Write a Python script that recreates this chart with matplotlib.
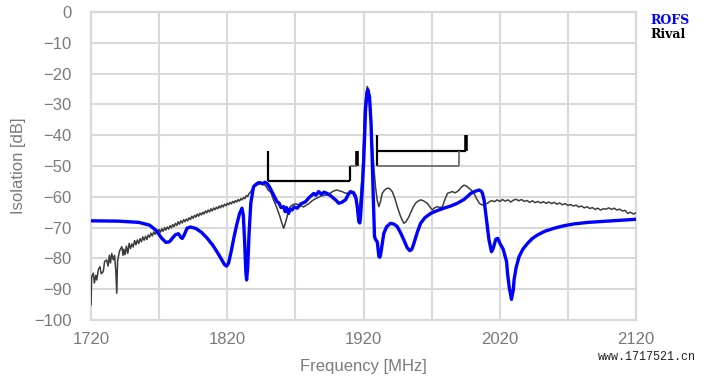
import numpy as np
import matplotlib.pyplot as plt

# ROFS (blue) curve
rofs_freq = [1720, 1740, 1755, 1763, 1768, 1772, 1775, 1777.6, 1780, 1782, 1784.2, 1786, 1787,
             1788.5, 1790.5, 1793, 1797, 1801, 1805, 1809, 1813, 1816, 1818, 1819.5, 1821, 1823,
             1825, 1827, 1829, 1830.8, 1831.8, 1832.8, 1833.6, 1834.2, 1835, 1836, 1837.3, 1839.3,
             1841, 1842.5, 1844.3, 1846, 1847.5, 1849.2, 1851, 1853, 1856.5, 1858, 1859.5, 1861.4,
             1862.5, 1863.5, 1865, 1866, 1867.5, 1869, 1871.3, 1874, 1877.4, 1880, 1883.5, 1885,
             1887.1, 1889, 1891, 1893.3, 1896, 1898.2, 1900, 1901.8, 1904, 1906.8, 1908.5, 1910.4,
             1912.9, 1914.5, 1915.4, 1916.6, 1917.3, 1917.8, 1919, 1920.2, 1921.5, 1922.5, 1923.2,
             1924.4, 1925.5, 1926.4, 1927.3, 1928.1, 1929, 1930.1, 1931.3, 1932, 1932.5, 1934.9,
             1937, 1939.9, 1942.5, 1944.8, 1947, 1949.6, 1952, 1954, 1955.5, 1957, 1959.5, 1961.9,
             1965, 1969.3, 1974, 1979, 1984, 1988.9, 1994, 1998.7, 2002, 2004.8, 2006.5, 2007.3,
             2008.5, 2009.7, 2011, 2012.1, 2013.9, 2015, 2017.1, 2018.5, 2020.7, 2022.5, 2023.7,
             2025, 2025.7, 2027, 2028.6, 2030, 2030.5, 2032, 2034.2, 2037, 2040.4, 2044, 2047.7,
             2053, 2060, 2067, 2074.6, 2085, 2099.2, 2110, 2120]
rofs_db = [-67.8, -67.9, -68.3, -69.2, -71, -73.5, -74.8, -74.6, -73.3, -72.3, -72, -73.2, -73.5,
           -72.3, -70.2, -69.8, -70.3, -71.5, -73.3, -75.5, -78.2, -80.5, -82, -82.5, -81.5, -77.5,
           -73, -69, -65.5, -63.7, -66, -75, -84, -87, -83, -72, -62, -56.7,
           -56, -55.5, -55.4, -55.8, -55.3, -55.6, -56.8, -58.5, -61.6, -62, -63.5, -63.2,
           -64.8, -63.5, -65.4, -64, -64.3, -63.3, -63.7, -62.3, -61.6, -60.3, -58.9, -59.5,
           -58.3, -59.2, -58.5, -58.9, -59.7, -60.5, -61.2, -62.1, -61.8, -61, -59.5, -58.3,
           -58.9, -60.5, -63.2, -68.1, -68.5, -66.5, -58, -48, -31.8, -26.5, -25.3,
           -27.5, -36, -48, -62, -73, -74, -74.6, -79.4, -79.6, -78.9, -71.9,
           -69.7, -68.6, -68.9, -69.7, -71.5, -74, -76.5, -77.5, -77, -75.1, -71.5, -68.6,
           -66.8, -65.4, -64.5, -63.7, -63, -62.1, -60.8, -58.9, -58.2, -57.8, -58.2, -58.9,
           -61, -65.4, -70, -74, -77.8, -77, -73.8, -73.5, -75.6, -77, -78.9,
           -81, -84.8, -89.5, -93.3, -90, -87, -83, -79.4, -77, -75.1, -73.5, -72.4,
           -71.2, -70.2, -69.4, -68.8, -68.3, -67.9, -67.6, -67.3]

# Rival (dark grey) curve, in four pieces
rival_lo_freq = [1720, 1720.5, 1721.7, 1722.5, 1723.5, 1724.2, 1725.5, 1726.6, 1727.5, 1729, 1730,
                 1731.5, 1732.5, 1733.5, 1734.3, 1735.2, 1736.4, 1737.3, 1738.2, 1738.9, 1739.5,
                 1740.1, 1741, 1742.6, 1743.5]
rival_lo_db = [-95, -86, -84.8, -88, -85.5, -87, -83.5, -82.7, -85, -84.3, -81, -80.5, -82.5, -79,
               -81.5, -78.4, -80.5, -79, -84, -91.3, -81, -79.4, -77.5, -76.2, -79]

rival_rise_freq = np.arange(1744, 1851, 1)
rival_rise_db = [-77.0, -78.8, -76.0, -78.4, -75.1, -76.8,
                 -75.3, -76.3, -74.2, -75.6, -74.0, -75.2, -73.6, -74.6, -73.0, -74.1,
                 -72.8, -73.9, -72.4, -73.1, -71.8, -72.7, -71.4, -72.2, -71.2, -71.9,
                 -70.6, -71.5, -70.4, -71.2, -70.0, -70.8, -69.8, -70.5, -69.4, -70.1,
                 -69.0, -69.7, -68.6, -69.3, -68.1, -68.9, -67.8, -68.5, -67.4, -68.1,
                 -67.2, -67.8, -66.8, -67.4, -66.3, -67.0, -66.0, -66.6, -65.6, -66.3,
                 -65.3, -65.9, -65.0, -65.6, -64.6, -65.2, -64.3, -64.9, -63.9, -64.6,
                 -63.6, -64.2, -63.4, -63.9, -63.0, -63.6, -62.7, -63.3, -62.4, -62.9,
                 -62.1, -62.6, -61.8, -62.3, -61.5, -62.0, -61.2, -61.7, -60.9, -61.4,
                 -60.6, -61.0, -60.2, -60.6, -59.6, -59.9, -58.9, -58.6, -57.6, -57.4,
                 -56.6, -56.5, -55.9, -56.1, -55.5, -55.8, -55.5, -56.1, -56.3, -57.0,
                 -57.8]

rival_mid_freq = [1852, 1854, 1856.5, 1858.5, 1860, 1861.4, 1862.5, 1863.9, 1865, 1866.3,
                  1868, 1870, 1872, 1874, 1876, 1878, 1880, 1882, 1884, 1886,
                  1888, 1890, 1893.3, 1896, 1898, 1900.7, 1902.5, 1904.3, 1906, 1908,
                  1910.4, 1912.9, 1914.5, 1915.4, 1916.6, 1917.8, 1919, 1920, 1920.7, 1921.8,
                  1922.7, 1923.6, 1924.6, 1925.6, 1926.6, 1927.7, 1928.8, 1930, 1931.3, 1932.5,
                  1933.7, 1935.5, 1937.4, 1939, 1941.1, 1943, 1944.8, 1946.5, 1948, 1949.6,
                  1951, 1953.3, 1955, 1956.5, 1958.2, 1960, 1961.9, 1964, 1966.8, 1968.5,
                  1970.5, 1972, 1974.2, 1976, 1977.9, 1979.5, 1981.6, 1983.5, 1985.2, 1987,
                  1988.9, 1990.5, 1992, 1993.8, 1995.5, 1997.4, 1999, 2001.1, 2003, 2005,
                  2007.3, 2009, 2011]
rival_mid_db = [-58.6, -61, -63.7, -66.2, -68.4, -70.2, -68.8, -66.5, -64.4, -63.2,
                -62.6, -62.3, -62.5, -62.9, -63.3, -62.7, -62.2, -61.4, -60.8, -60.4,
                -59.9, -59.6, -59.4, -58.7, -58.1, -57.8, -58.1, -58.3, -58.7, -58.9,
                -58.3, -58.3, -59.5, -62.1, -65.4, -60, -53.5, -42, -31.8, -26.5,
                -24.2, -25, -27.5, -34, -43.7, -51, -56.7, -61, -63.2, -61.5,
                -58.9, -57.8, -57.2, -57.3, -58.3, -60.5, -63.2, -65.5, -67.2, -68.6,
                -68.2, -66.5, -64.8, -63.3, -62.1, -61.4, -61, -61.3, -62.1, -63.1,
                -64.3, -63.6, -63.2, -63.5, -63.2, -61.2, -58.9, -58.6, -58.3, -58.7,
                -58.3, -57.6, -56.8, -56.2, -56.5, -57.2, -57.8, -58.9, -60.6, -62.1,
                -62.7, -62.3, -62.1]

rival_tail_freq = np.arange(2012, 2121, 2)
rival_tail_db = [-61.8, -61.2, -61.6, -61.0, -61.5, -60.9, -61.4, -61.0, -61.7, -61.1,
                 -60.8, -61.3, -60.9, -61.5, -61.2, -61.8, -61.3, -61.9, -61.5, -62.0,
                 -61.6, -62.1, -61.7, -62.2, -61.8, -62.4, -62.0, -62.6, -62.2, -62.8,
                 -62.5, -63.0, -62.7, -63.3, -63.0, -63.6, -63.2, -63.8, -63.5, -64.1,
                 -63.7, -64.3, -63.9, -64.0, -63.6, -64.1, -63.7, -64.3, -64.0, -64.6,
                 -64.4, -65.4, -65.0, -65.6, -65.2]

# spec mask segments (freq pairs, dB pairs)
mask_black = [([1850, 1850], [-45, -55]), ([1850, 1910], [-55, -55]), ([1910, 1910], [-55, -50]),
              ([1930, 1930], [-40, -50]), ([1930, 1995], [-45, -45])]
mask_thick = [([1915, 1915], [-45, -50]), ([1995, 1995], [-40, -45])]
mask_grey = [([1910, 1915], [-50, -50]), ([1930, 1990], [-50, -50]), ([1990, 1990], [-45, -50])]

x_ticks = np.arange(1720, 2121, 50)
x_labels = [str(v) if (v - 1720) % 100 == 0 else "" for v in x_ticks]
y_ticks = np.arange(-100, 1, 10)

rival_freq = np.concatenate([rival_lo_freq, rival_rise_freq, rival_mid_freq, rival_tail_freq])
rival_db = np.concatenate([rival_lo_db, rival_rise_db, rival_mid_db, rival_tail_db])

plt.rcParams['font.family'] = ['Liberation Sans', 'DejaVu Sans']
fig = plt.figure(figsize=(7.09, 3.78), dpi=100)
ax = fig.add_axes([91 / 709, 1 - 320 / 378, 545 / 709, 308 / 378])

grid_c = '#d9d9d9'
text_c = '#7a7a7a'

ax.plot(rival_freq, rival_db, color='#3c3c3c', lw=1.1, zorder=3)
for xs, ys in mask_black:
    ax.plot(xs, ys, color='black', lw=1.6, zorder=4, solid_capstyle='butt')
for xs, ys in mask_thick:
    ax.plot(xs, ys, color='black', lw=2.6, zorder=4, solid_capstyle='butt')
for xs, ys in mask_grey:
    ax.plot(xs, ys, color='#6e6e6e', lw=1.3, zorder=4, solid_capstyle='butt')
ax.plot(rofs_freq, rofs_db, color='#0000ff', lw=2.4, zorder=5, solid_joinstyle='round')

ax.set_xlim(1720, 2120)
ax.set_ylim(-100, 0)
ax.set_xticks(x_ticks)
ax.set_xticklabels(x_labels)
ax.set_yticks(y_ticks)
ax.grid(True, color=grid_c, lw=1.5, zorder=0)
ax.set_axisbelow(True)
for s in ax.spines.values():
    s.set_color(grid_c)
    s.set_linewidth(1.6)
ax.tick_params(length=0, labelsize=12, labelcolor=text_c)
ax.tick_params(axis='y', pad=14)
ax.tick_params(axis='x', pad=9)
ax.set_xlabel('Frequency [MHz]', fontsize=12, color=text_c, labelpad=8)
ax.set_ylabel('Isolation [dB]', fontsize=12, color=text_c, labelpad=5.5)

fig.text(650 / 709, 1 - 20 / 378, 'ROFS', color='#0000ff', fontsize=9, fontweight='bold',
         family='DejaVu Serif', va='center')
fig.text(650 / 709, 1 - 35 / 378, 'Rival', color='black', fontsize=9, fontweight='bold',
         family='DejaVu Serif', va='center')
fig.text(598 / 709, 1 - 357 / 378, 'www.1717521.cn', color='#222222', fontsize=8.5,
         family='Liberation Mono', va='center')

fig.savefig('out.png', dpi=100)
